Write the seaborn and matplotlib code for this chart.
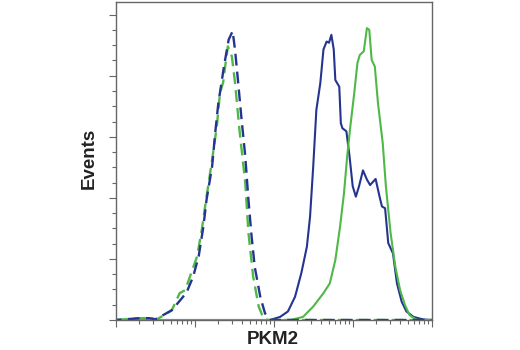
import numpy as np
import pandas as pd
import matplotlib
matplotlib.use("Agg")
import matplotlib.pyplot as plt
from matplotlib.ticker import LogLocator, MultipleLocator, NullFormatter
import seaborn as sns

# x values are log10(PKM2 intensity); y values are event counts
ctrl_blue_x = [0.00, 0.31, 0.43, 0.50, 0.60, 0.71, 0.84, 0.90, 0.98, 1.05, 1.11, 1.15, 1.22, 1.26,
               1.30, 1.34, 1.37, 1.43, 1.48, 1.51, 1.55, 1.59, 1.64, 1.68, 1.72, 1.76, 1.83, 1.89,
               1.95, 4.00]
ctrl_blue_y = [0, 3, 3, 1, 8, 16, 36, 46, 71, 104, 153, 197, 251, 307,
               356, 389, 415, 459, 473, 443, 389, 333, 268, 197, 137, 87, 38, 11,
               0, 0]

ctrl_green_x = [0.00, 0.31, 0.43, 0.52, 0.60, 0.71, 0.81, 0.88, 0.94, 1.03, 1.09, 1.15, 1.22, 1.28,
                1.32, 1.36, 1.38, 1.42, 1.47, 1.51, 1.57, 1.64, 1.68, 1.74, 1.81, 1.87, 1.93, 4.00]
ctrl_green_y = [0, 3, 3, 1, 7, 16, 44, 49, 71, 104, 148, 202, 262, 317,
                372, 389, 410, 448, 432, 389, 307, 225, 143, 71, 22, 3, 0, 0]

pkm2_blue_x = [0.00, 1.95, 2.08, 2.18, 2.27, 2.35, 2.42, 2.46, 2.50, 2.54, 2.59, 2.63, 2.67, 2.70,
               2.73, 2.76, 2.78, 2.83, 2.85, 2.87, 2.92, 2.96, 3.00, 3.04, 3.08, 3.13, 3.18, 3.22,
               3.29, 3.34, 3.37, 3.41, 3.45, 3.51, 3.56, 3.62, 3.68, 3.77, 3.89, 4.00]
pkm2_blue_y = [0, 0, 5, 14, 38, 77, 120, 169, 251, 344, 388, 443, 456, 454,
               467, 443, 393, 382, 322, 314, 309, 268, 219, 202, 219, 245, 230, 221,
               231, 202, 186, 183, 126, 109, 60, 30, 14, 5, 1, 0]

pkm2_green_x = [0.00, 2.21, 2.37, 2.50, 2.63, 2.71, 2.78, 2.84, 2.89, 2.93, 2.97, 3.02, 3.06, 3.09,
                3.14, 3.18, 3.21, 3.24, 3.28, 3.32, 3.38, 3.42, 3.48, 3.54, 3.60, 3.66, 3.72, 3.81,
                4.00]
pkm2_green_y = [0, 0, 5, 22, 44, 60, 98, 153, 208, 268, 317, 372, 421, 434,
                440, 478, 475, 426, 415, 355, 290, 219, 142, 87, 49, 25, 8, 0,
                0]

x_label = "PKM2"
y_label = "Events"

BLUE = "#25348f"
GREEN = "#4fb848"
SPINE = "#666666"

sns.set_style("white")
plt.rcParams["font.family"] = ["Liberation Sans Narrow", "Liberation Sans", "DejaVu Sans"]

fig = plt.figure(figsize=(5.2, 3.5), dpi=100)
ax = fig.add_axes([0.2225, 0.0857, 0.6077, 0.9073])

def draw(xs, ys, color, ls, lw):
    df = pd.DataFrame({"x": 10 ** np.asarray(xs, dtype=float), "y": ys})
    sns.lineplot(data=df, x="x", y="y", ax=ax, color=color, linewidth=lw,
                 linestyle=ls, sort=False, estimator=None, legend=False)

draw(pkm2_blue_x, pkm2_blue_y, BLUE, "-", 1.5)
draw(pkm2_green_x, pkm2_green_y, GREEN, "-", 1.5)
draw(ctrl_green_x, ctrl_green_y, GREEN, (0, (5, 2.6)), 1.7)
draw(ctrl_blue_x, ctrl_blue_y, BLUE, (2.5, (5, 2.6)), 1.7)

ax.set_xscale("log")
ax.set_xlim(1, 1e4)
ax.set_ylim(0, 520)

ax.xaxis.set_major_locator(LogLocator(base=10, numticks=10))
ax.xaxis.set_minor_locator(LogLocator(base=10, subs=np.arange(2, 10), numticks=20))
ax.xaxis.set_major_formatter(NullFormatter())
ax.xaxis.set_minor_formatter(NullFormatter())
ax.yaxis.set_major_locator(MultipleLocator(100))
ax.yaxis.set_minor_locator(MultipleLocator(25))
ax.yaxis.set_major_formatter(NullFormatter())

ax.tick_params(axis="both", which="major", direction="out", length=5, width=0.8,
               color=SPINE, bottom=True, left=True, top=False, right=False)
ax.tick_params(axis="both", which="minor", direction="out", length=3, width=0.8,
               color=SPINE, bottom=True, left=True, top=False, right=False)

for s in ax.spines.values():
    s.set_color(SPINE)
    s.set_linewidth(1.0)
    s.set_visible(True)

ax.set_xlabel(x_label, fontsize=13.5, fontweight="bold", color="#222222")
ax.set_ylabel(y_label, fontsize=13.5, fontweight="bold", color="#222222")
ax.xaxis.set_label_coords(0.498, -0.035)
ax.yaxis.set_label_coords(-0.084, 0.51)
ax.yaxis.label.set_va("center")

fig.savefig("out.png", dpi=100, facecolor="white")
